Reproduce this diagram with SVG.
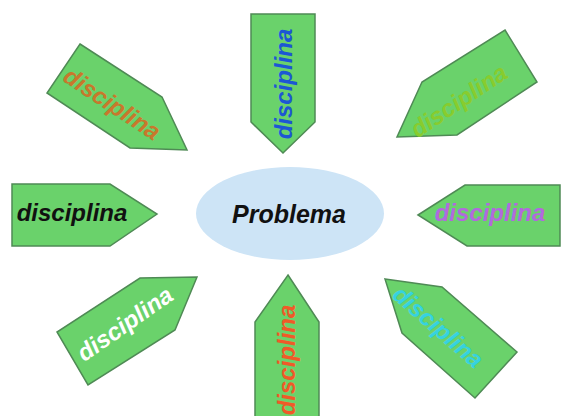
<svg xmlns="http://www.w3.org/2000/svg" width="561" height="416" viewBox="0 0 561 416">
  <style>
    .arrow { fill: #6ad26b; stroke: #4f8a55; stroke-width: 1.5; stroke-linejoin: miter; }
    .lbl { font-family: "Liberation Sans", Arial, sans-serif; font-weight: bold; font-style: italic; font-size: 24px; text-anchor: middle; }
    .prob { font-family: "Liberation Sans", Arial, sans-serif; font-weight: bold; font-style: italic; font-size: 25px; text-anchor: middle; fill: #111; }
  </style>
  <rect width="561" height="416" fill="#ffffff"/>
  <g id="problema">
    <ellipse cx="290" cy="213.5" rx="94" ry="46.5" fill="#cde4f6"/>
    <text class="prob" x="289" y="223">Problema</text>
  </g>
  <g id="d-topleft">
    <polygon class="arrow" points="80,44 162,97 187,150 130,148 47,93"/>
    <text class="lbl" fill="#c8782c" transform="translate(112,104) rotate(33.5)" y="8">disciplina</text>
  </g>
  <g id="d-top">
    <polygon class="arrow" points="251,14 315,14 315,122 283,153 251,122"/>
    <text class="lbl" fill="#1c57d4" transform="translate(284,84) rotate(-90)" y="8">disciplina</text>
  </g>
  <g id="d-topright">
    <polygon class="arrow" points="505,30 537,82 457,135 397,137 422,82"/>
    <text class="lbl" fill="#88cc2e" transform="translate(459,101) rotate(-34)" y="8">disciplina</text>
  </g>
  <g id="d-left">
    <polygon class="arrow" points="12,184 110,184 157,214 110,246 12,246"/>
    <text class="lbl" fill="#111111" x="72" y="221">disciplina</text>
  </g>
  <g id="d-right">
    <polygon class="arrow" points="418,215 465,185 560,185 560,246 467,246"/>
    <text class="lbl" fill="#b269de" x="490" y="221">disciplina</text>
  </g>
  <g id="d-bottomleft">
    <polygon class="arrow" points="197,277 175,330 88,385 57,332 140,278"/>
    <text class="lbl" fill="#ffffff" transform="translate(125,324) rotate(-35)" y="8">disciplina</text>
  </g>
  <g id="d-bottom">
    <polygon class="arrow" points="288,275 319,322 319,420 255,420 255,322"/>
    <text class="lbl" fill="#f05a28" transform="translate(287,360) rotate(-90)" y="8">disciplina</text>
  </g>
  <g id="d-bottomright">
    <polygon class="arrow" points="385,279 442,287 517,352 475,398 402,333"/>
    <text class="lbl" fill="#36d2e0" transform="translate(438,327) rotate(41)" y="8">disciplina</text>
  </g>
  <g id="connectors"></g>
</svg>
